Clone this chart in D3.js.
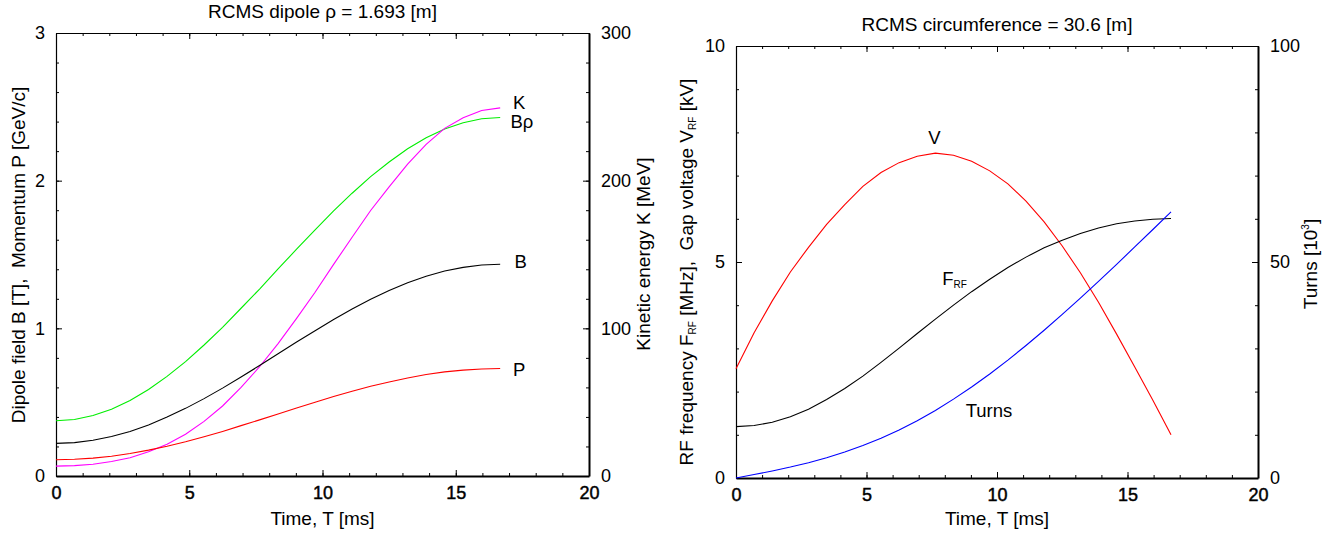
<!DOCTYPE html>
<html><head><meta charset="utf-8">
<script src="https://cdn.jsdelivr.net/npm/d3@7"></script>
<style>
body{margin:0;background:#fff}
svg text{font-family:"Liberation Sans",Arial,Helvetica,sans-serif;fill:#000;white-space:pre}
</style>
</head><body>
<svg id="c" width="1340" height="538"></svg>
<script>
// ---- data ----
const timeMs = [0, 0.694, 1.389, 2.083, 2.778, 3.472, 4.167, 4.861, 5.556, 6.250, 6.944, 7.639, 8.333, 9.028, 9.722, 10.417, 11.111, 11.806, 12.500, 13.194, 13.889, 14.583, 15.278, 15.972, 16.667];
const dipoleB = [0.221,0.226,0.242,0.267,0.302,0.346,0.399,0.458,0.524,0.595,0.671,0.748,0.828,0.907,0.984,1.060,1.131,1.197,1.256,1.309,1.353,1.388,1.413,1.429,1.434];
const bRho = [0.374,0.383,0.410,0.452,0.511,0.586,0.675,0.775,0.887,1.007,1.136,1.266,1.402,1.536,1.666,1.795,1.915,2.027,2.126,2.216,2.291,2.350,2.392,2.419,2.428];
const momentumP = [0.110,0.113,0.121,0.134,0.152,0.175,0.202,0.232,0.266,0.302,0.341,0.380,0.420,0.460,0.499,0.538,0.574,0.608,0.637,0.664,0.687,0.705,0.717,0.725,0.728];
const kineticK = [6.7,7.0,8.0,9.8,12.4,16.4,21.5,28.3,37.0,47.4,60.0,74.0,89.7,106.7,124.4,143.3,161.7,179.8,195.8,211.2,224.6,235.4,242.6,247.5,249.3];
const rfFreq = [1.190,1.215,1.290,1.420,1.590,1.815,2.070,2.358,2.676,3.005,3.346,3.678,4.003,4.313,4.600,4.873,5.113,5.328,5.503,5.659,5.788,5.885,5.949,5.990,6.006];
const gapVoltage = [2.53,3.36,4.10,4.77,5.34,5.87,6.33,6.75,7.07,7.30,7.45,7.52,7.47,7.33,7.11,6.81,6.41,5.93,5.37,4.75,4.07,3.33,2.57,1.80,1.00];
const turnsK = [0,0.80,1.63,2.54,3.55,4.69,6.00,7.50,9.20,11.12,13.27,15.64,18.25,21.06,24.08,27.29,30.67,34.20,37.87,41.65,45.52,49.47,53.48,57.52,61.58];

const timeTicks = [0,5,10,15,20];
const timeMinor = [0,1,2,3,4,5,6,7,8,9,10,11,12,13,14,15,16,17,18,19,20];
const dipoleTicks = [0,1,2,3];
const dipoleMinor = [0,0.2,0.4,0.6,0.8,1,1.2,1.4,1.6,1.8,2,2.2,2.4,2.6,2.8,3];
const energyTicks = [0,100,200,300];
const energyMinor = [0,20,40,60,80,100,120,140,160,180,200,220,240,260,280,300];
const rfTicks = [0,5,10];
const rfMinor = [0,1,2,3,4,5,6,7,8,9,10];
const turnTicks = [0,50,100];
const turnMinor = [0,10,20,30,40,50,60,70,80,90,100];

const svg = d3.select('#c');
const FONT = '"Liberation Sans",Arial,Helvetica,sans-serif';
const TITLE_FS = 19;

function panel(p) {
  const x = d3.scaleLinear().domain([0,20]).range([p.left,p.right]);
  const yL = d3.scaleLinear().domain(p.yLDomain).range([p.bottom,p.top]);
  const yR = d3.scaleLinear().domain(p.yRDomain).range([p.bottom,p.top]);
  const g = svg.append('g');

  const style = (s, w) => {
    s.attr('font-size',18).attr('font-family',FONT);
    s.select('.domain').attr('stroke-width', w);
    s.selectAll('.tick line').attr('stroke-width',1);
  };
  const minor = (axisFn, scale, vals, tr) => g.append('g').attr('transform',tr)
      .call(axisFn(scale).tickValues(vals).tickSize(-3).tickSizeOuter(0).tickFormat(''))
      .call(s=>s.select('.domain').remove());

  minor(d3.axisBottom, x, timeMinor, `translate(0,${p.bottom})`);
  minor(d3.axisTop, x, timeMinor, `translate(0,${p.top})`);
  minor(d3.axisLeft, yL, p.yLMinor, `translate(${p.left},0)`);
  minor(d3.axisRight, yR, p.yRMinor, `translate(${p.right},0)`);

  g.append('g').attr('transform',`translate(0,${p.top})`)
    .call(d3.axisTop(x).tickValues(timeTicks).tickSize(-6).tickSizeOuter(0).tickFormat(''))
    .call(s=>style(s,1.2));
  g.append('g').attr('transform',`translate(${p.left},0)`)
    .call(d3.axisLeft(yL).tickValues(p.yLTicks).tickSize(-6).tickSizeOuter(0).tickPadding(11).tickFormat(d3.format('d')))
    .call(s=>style(s,1.2));
  g.append('g').attr('transform',`translate(${p.right},0)`)
    .call(d3.axisRight(yR).tickValues(p.yRTicks).tickSize(-6).tickSizeOuter(0).tickPadding(12).tickFormat(d3.format('d')))
    .call(s=>style(s,2));
  g.append('g').attr('transform',`translate(0,${p.bottom})`)
    .call(d3.axisBottom(x).tickValues(timeTicks).tickSize(-6).tickSizeOuter(0).tickPadding(10).tickFormat(d3.format('d')))
    .call(s=>{style(s,2); s.selectAll('text').attr('stroke','#000').attr('stroke-width',0.45);});

  // curves
  p.series.forEach(sr => {
    const sc = sr.axis === 'R' ? yR : yL;
    g.append('path')
      .datum(timeMs.map((t,i)=>[t, sr.values[i]]))
      .attr('fill','none').attr('stroke',sr.color).attr('stroke-width',1.1)
      .attr('d', d3.line().x(d=>x(d[0])).y(d=>sc(d[1])));
  });

  // titles
  g.append('text').attr('x',(p.left+p.right)/2).attr('y',p.titleY)
    .attr('text-anchor','middle').attr('font-size',TITLE_FS).text(p.title);
  g.append('text').attr('x',(p.left+p.right)/2).attr('y',525)
    .attr('text-anchor','middle').attr('font-size',TITLE_FS).text('Time, T [ms]');
  return {g,x,yL,yR};
}

// ---- left panel ----
const L = panel({
  left:56, right:589, top:33, bottom:476, titleY:18,
  yLDomain:[0,3], yRDomain:[0,300],
  yLTicks:dipoleTicks, yLMinor:dipoleMinor, yRTicks:energyTicks, yRMinor:energyMinor,
  title:'RCMS dipole \u03C1 = 1.693 [m]',
  series:[
    {values:bRho, color:'#00ee00', axis:'L'},
    {values:kineticK, color:'#ff00ff', axis:'R'},
    {values:dipoleB, color:'#000000', axis:'L'},
    {values:momentumP, color:'#ff0000', axis:'L'}
  ]
});
L.g.append('text').attr('transform','translate(25,255) rotate(-90)').attr('text-anchor','middle')
  .attr('font-size',TITLE_FS).text('Dipole field B [T],  Momentum P [GeV/c]');
L.g.append('text').attr('transform','translate(650,254) rotate(-90)').attr('text-anchor','middle')
  .attr('font-size',TITLE_FS).text('Kinetic energy K [MeV]');
const lab = (P, t, v, txt, anchor) => P.g.append('text').attr('x',P.x(t)).attr('y',P.yL(v))
  .attr('font-size',18.5).attr('text-anchor',anchor||'start').text(txt);
lab(L, 17.15, 2.485, 'K');
lab(L, 17.05, 2.358, 'B\u03C1');
lab(L, 17.2, 1.408, 'B');
lab(L, 17.15, 0.677, 'P');

// ---- right panel ----
const R = panel({
  left:736, right:1258, top:46, bottom:478, titleY:31,
  yLDomain:[0,10], yRDomain:[0,100],
  yLTicks:rfTicks, yLMinor:rfMinor, yRTicks:turnTicks, yRMinor:turnMinor,
  title:'RCMS circumference = 30.6 [m]',
  series:[
    {values:gapVoltage, color:'#ff0000', axis:'L'},
    {values:rfFreq, color:'#000000', axis:'L'},
    {values:turnsK, color:'#0000ff', axis:'R'}
  ]
});
const rt = R.g.append('text').attr('transform','translate(693,272) rotate(-90)').attr('text-anchor','middle').attr('font-size',TITLE_FS);
rt.append('tspan').text('RF frequency F');
rt.append('tspan').attr('font-size',10).attr('dy',3).text('RF');
rt.append('tspan').attr('dy',-3).text(' [MHz],  Gap voltage V');
rt.append('tspan').attr('font-size',10).attr('dy',3).text('RF');
rt.append('tspan').attr('dy',-3).text(' [kV]');
const tt = R.g.append('text').attr('transform','translate(1317,264) rotate(-90)').attr('text-anchor','middle').attr('font-size',TITLE_FS);
tt.append('tspan').text('Turns [10');
tt.append('tspan').attr('font-size',10).attr('dy',-8).text('3');
tt.append('tspan').attr('dy',8).text(']');

lab(R, 7.6, 7.74, 'V', 'middle');
const fl = R.g.append('text').attr('x',R.x(7.9)).attr('y',R.yL(4.47)).attr('font-size',18.5);
fl.append('tspan').text('F');
fl.append('tspan').attr('font-size',10).attr('dy',3).text('RF');
lab(R, 8.8, 1.41, 'Turns');
</script>
</body></html>
